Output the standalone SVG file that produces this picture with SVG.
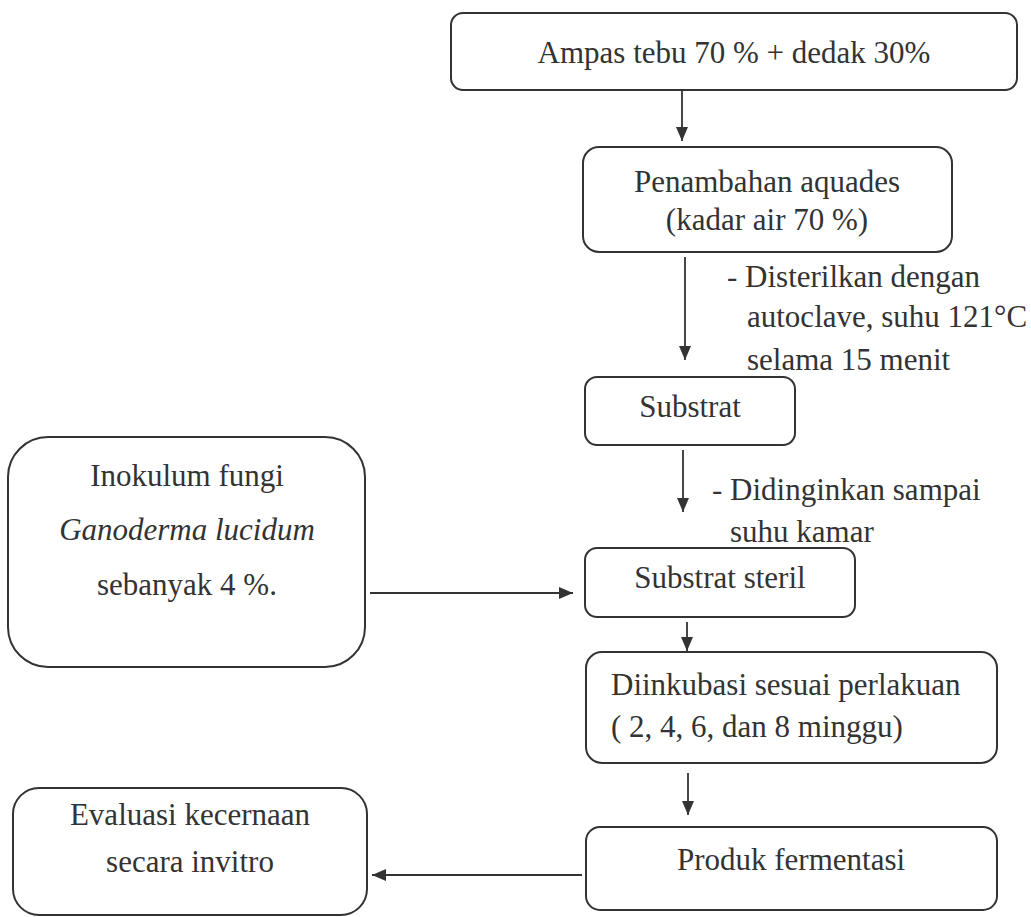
<svg xmlns="http://www.w3.org/2000/svg" width="1031" height="917" viewBox="0 0 1031 917">
<defs>
<style>
.box{fill:none;stroke:#333;stroke-width:2}
.t{font-family:"Liberation Serif","Times New Roman",serif;font-size:31px;fill:#333}
.c{text-anchor:middle}
.it{font-style:italic}
.ln{stroke:#333;stroke-width:1.8;fill:none}
</style>
<marker id="ah" markerUnits="userSpaceOnUse" markerWidth="14" markerHeight="14" viewBox="0 0 14 14" refX="14" refY="7" orient="auto">
<path d="M0,1 L14,7 L0,13 z" fill="#333"/>
</marker>
</defs>
<rect width="1031" height="917" fill="#fff"/>
<g id="n1"><rect class="box" x="451" y="13" width="566" height="77" rx="12"/><text class="t c" x="734" y="63">Ampas tebu 70 % + dedak 30%</text></g>
<g id="n2"><rect class="box" x="583" y="147" width="369" height="105" rx="16"/><text class="t c" x="767" y="192">Penambahan aquades</text><text class="t c" x="767" y="230">(kadar air 70 %)</text></g>
<g id="n3"><rect class="box" x="585" y="377" width="210" height="68" rx="12"/><text class="t c" x="690" y="417">Substrat</text></g>
<g id="n4"><rect class="box" x="585" y="548" width="270" height="69" rx="12"/><text class="t c" x="720" y="588">Substrat steril</text></g>
<g id="n5"><rect class="box" x="586" y="652" width="411" height="111" rx="16"/><text class="t" x="611" y="695">Diinkubasi sesuai perlakuan</text><text class="t" x="611" y="737">( 2, 4, 6, dan 8 minggu)</text></g>
<g id="n6"><rect class="box" x="586" y="827" width="411" height="83" rx="14"/><text class="t c" x="791" y="870">Produk fermentasi</text></g>
<g id="n7"><rect class="box" x="8" y="437" width="357" height="230" rx="40"/><text class="t c" x="187" y="486">Inokulum fungi</text><text class="t c it" x="187" y="540">Ganoderma lucidum</text><text class="t c" x="187" y="595">sebanyak 4 %.</text></g>
<g id="n8"><rect class="box" x="13" y="788" width="354" height="127" rx="26"/><text class="t c" x="190" y="825">Evaluasi kecernaan</text><text class="t c" x="190" y="872">secara invitro</text></g>
<g id="labels">
<text class="t" x="727" y="287">- Disterilkan dengan</text>
<text class="t" x="747" y="327">autoclave, suhu 121°C</text>
<text class="t" x="747" y="370">selama 15 menit</text>
<text class="t" x="712" y="500">- Didinginkan sampai</text>
<text class="t" x="730" y="542">suhu kamar</text>
</g>
<g id="connectors">
<line class="ln" x1="682" y1="90" x2="682" y2="141" marker-end="url(#ah)"/>
<line class="ln" x1="685" y1="257" x2="685" y2="360" marker-end="url(#ah)"/>
<line class="ln" x1="683" y1="450" x2="683" y2="512" marker-end="url(#ah)"/>
<line class="ln" x1="370" y1="593" x2="573" y2="593" marker-end="url(#ah)"/>
<line class="ln" x1="687" y1="622" x2="687" y2="651" marker-end="url(#ah)"/>
<line class="ln" x1="688" y1="773" x2="688" y2="815" marker-end="url(#ah)"/>
<line class="ln" x1="582" y1="875" x2="372" y2="875" marker-end="url(#ah)"/>
</g>
</svg>
